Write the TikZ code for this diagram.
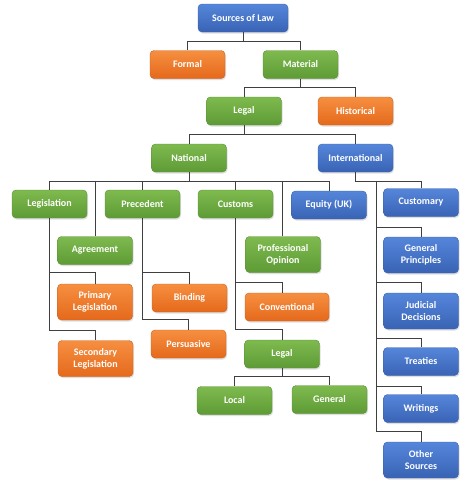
\documentclass[tikz,border=0pt]{standalone}
\usepackage{fontspec}
\setmainfont{Carlito}
\usetikzlibrary{shadows,calc}
\definecolor{blueT}{HTML}{5586DA}
\definecolor{blueB}{HTML}{3963B5}
\definecolor{blueE}{HTML}{3A5FA8}
\definecolor{greenT}{HTML}{7EBA4E}
\definecolor{greenB}{HTML}{5E9B36}
\definecolor{greenE}{HTML}{5A8E37}
\definecolor{orangeT}{HTML}{F68F40}
\definecolor{orangeB}{HTML}{E5691C}
\definecolor{orangeE}{HTML}{C86020}
\definecolor{lineC}{HTML}{3F3F3F}
\tikzset{
  box/.style={rounded corners=4pt, minimum width=75pt, minimum height=28pt,
    inner sep=1pt, align=center, text=white,
    font=\fontsize{10}{12.3}\selectfont\bfseries, line width=0.4pt,
    drop shadow={opacity=0.25, shadow xshift=1pt, shadow yshift=-1.5pt}},
  bbox/.style={box, top color=blueT, bottom color=blueB, draw=blueE},
  gbox/.style={box, top color=greenT, bottom color=greenB, draw=greenE},
  obox/.style={box, top color=orangeT, bottom color=orangeB, draw=orangeE},
  tall/.style={minimum height=36pt},
  conn/.style={draw=lineC, line width=0.9pt}
}
\begin{document}
\begin{tikzpicture}[x=1pt, y=-1pt]
\useasboundingbox (0,0) rectangle (474,482);
% connectors first (behind boxes)
\coordinate (cSrc) at (243,32);
% level 0-2
\node[bbox, minimum width=90pt] (src) at (243,18) {Sources of Law};
\node[obox] (formal) at (187.5,64.5) {Formal};
\node[gbox] (material) at (300.5,64.5) {Material};
\node[gbox] (legal) at (244,111) {Legal};
\node[obox] (historical) at (355.5,111) {Historical};
\node[gbox] (national) at (189,158) {National};
\node[bbox] (international) at (355.5,158) {International};
% level 3
\node[gbox] (legislation) at (49.5,204) {Legislation};
\node[gbox] (precedent) at (142.5,204) {Precedent};
\node[gbox] (customs) at (235.5,204) {Customs};
\node[bbox] (equity) at (329,205) {Equity (UK)};
\node[bbox] (customary) at (421,202.5) {Customary};
% below
\node[gbox] (agreement) at (95,250.5) {Agreement};
\node[gbox, tall] (profop) at (283,254.5) {Professional\\Opinion};
\node[obox, tall] (primary) at (95,302) {Primary\\Legislation};
\node[obox] (binding) at (189.5,298) {Binding};
\node[obox, minimum width=84pt] (conventional) at (287,307) {Conventional};
\node[obox, tall] (secondary) at (95.5,358.5) {Secondary\\Legislation};
\node[obox] (persuasive) at (188.5,344) {Persuasive};
\node[gbox] (legaltwo) at (282,354) {Legal};
\node[gbox] (local) at (234.5,400.5) {Local};
\node[gbox] (general) at (329.5,399.5) {General};
\node[bbox, tall] (genprin) at (421,255) {General\\Principles};
\node[bbox, tall] (judicial) at (421,311) {Judicial\\Decisions};
\node[bbox] (treaties) at (421,361.5) {Treaties};
\node[bbox] (writings) at (421,408.5) {Writings};
\node[bbox, tall] (other) at (421,460) {Other\\Sources};
% connectors
\draw[conn] (src.south) -- ++(0,9) -| (formal.north);
\draw[conn] (src.south) -- ++(0,9) -| (material.north);
\draw[conn] (material.south) -- ++(0,9) -| (legal.north);
\draw[conn] (material.south) -- ++(0,9) -| (historical.north);
\draw[conn] (legal.south) -- ++(0,9) -| (national.north);
\draw[conn] (legal.south) -- ++(0,9) -| (international.north);
\draw[conn] (national.south) -- ++(0,9) -| (legislation.north);
\draw[conn] (national.south) -- ++(0,9) -| (agreement.north);
\draw[conn] (national.south) -- ++(0,9) -| (precedent.north);
\draw[conn] (national.south) -- ++(0,9) -| (customs.north);
\draw[conn] (national.south) -- ++(0,9) -| ([xshift=-1pt]profop.north);
\draw[conn] (national.south) -- ++(0,9) -| (equity.north);
% legislation branch
\draw[conn] (legislation.south) |- ([yshift=11pt]primary.north) -- (primary.north);
\draw[conn] (legislation.south) |- ([yshift=10pt]secondary.north) -- (secondary.north);
% precedent branch
\draw[conn] (precedent.south) |- ([yshift=11pt]binding.north) -- (binding.north);
\draw[conn] (precedent.south) |- ([yshift=10pt]persuasive.north) -- (persuasive.north);
% customs branch
\draw[conn] (customs.south) |- ([xshift=-5pt,yshift=10pt]conventional.north) -- ([xshift=-5pt]conventional.north);
\draw[conn] (customs.south) |- ([yshift=10pt]legaltwo.north) -- (legaltwo.north);
\draw[conn] (legaltwo.south) -- ++(0,8) -| (local.north);
\draw[conn] (legaltwo.south) -- ++(0,8) -| (general.north);
% international branch
\draw[conn] (international.south) -- ++(0,9) -| (customary.north);
\coordinate (itrunk) at ($(international.south)+(20.5,9)$);
\draw[conn] (international.south) -- ++(0,9) -- (itrunk);
\draw[conn] (itrunk) |- ([yshift=9pt]genprin.north) -- (genprin.north);
\draw[conn] (itrunk) |- ([yshift=10pt]judicial.north) -- (judicial.north);
\draw[conn] (itrunk) |- ([yshift=9pt]treaties.north) -- (treaties.north);
\draw[conn] (itrunk) |- ([yshift=8pt]writings.north) -- (writings.north);
\draw[conn] (itrunk) |- ([yshift=10pt]other.north) -- (other.north);
\end{tikzpicture}
\end{document}
